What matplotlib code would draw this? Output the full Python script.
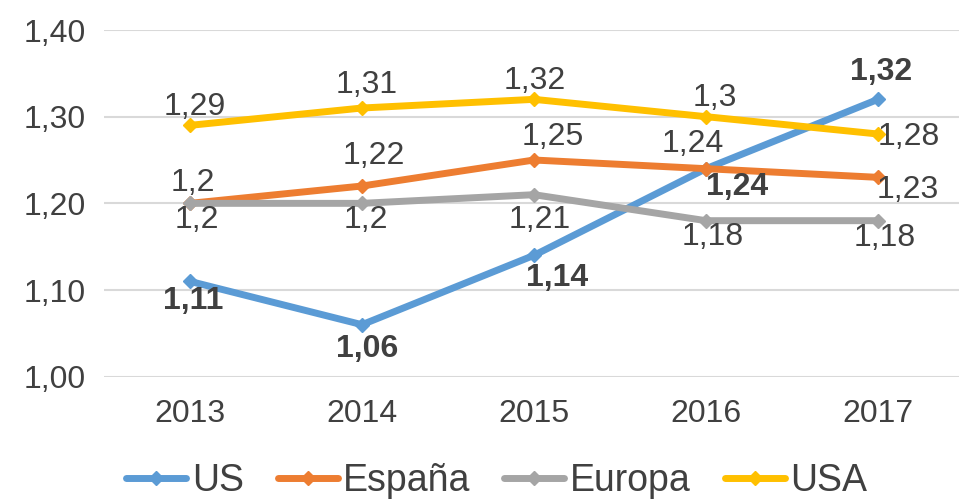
import matplotlib
matplotlib.use("Agg")
import matplotlib.pyplot as plt

plt.rcParams['font.family'] = ['Liberation Sans', 'DejaVu Sans']

years = ["2013", "2014", "2015", "2016", "2017"]
us = [1.11, 1.06, 1.14, 1.24, 1.32]
espana = [1.20, 1.22, 1.25, 1.24, 1.23]
europa = [1.20, 1.20, 1.21, 1.18, 1.18]
usa = [1.29, 1.31, 1.32, 1.30, 1.28]
yticks = [1.00, 1.10, 1.20, 1.30, 1.40]

series = [
    ("US", us, "#5B9BD5", "bold",
     [(3, -20), (5, -24), (23, -23), (31, -18), (3, 27)]),
    ("España", espana, "#ED7D31", "normal",
     [(3, 20), (12, 30), (19, 23), (-13, 25), (30, -13)]),
    ("Europa", europa, "#A5A5A5", "normal",
     [(7, -17), (4, -17), (6, -25), (7, -16), (7, -17)]),
    ("USA", usa, "#FFC000", "normal",
     [(5, 18), (5, 23), (1, 18), (9, 19), (31, -3)]),
]

txt = "#404040"

fig = plt.figure(figsize=(9.59, 4.99), dpi=100)
ax = fig.add_axes([104 / 959, 122.3 / 499, 860 / 959, 346.7 / 499])

x = list(range(len(years)))
for name, vals, col, weight, offs in series:
    ax.plot(x, vals, color=col, lw=5, marker='D', markersize=7,
            label=name, solid_capstyle='round', zorder=3)
for name, vals, col, weight, offs in series:
    for xi, v, (dx, dy) in zip(x, vals, offs):
        lab = ("%g" % v).replace('.', ',')
        ax.annotate(lab, (xi, v), xytext=(dx, dy), textcoords='offset pixels',
                    ha='center', va='center', fontsize=23, color=txt,
                    fontweight=weight, zorder=5)

ax.set_xlim(-0.5, 4.5)
ax.set_ylim(1.0, 1.4)
ax.set_yticks(yticks)
ax.set_yticklabels([("%.2f" % t).replace('.', ',') for t in yticks])
ax.set_xticks(x)
ax.set_xticklabels(years)
ax.tick_params(axis='both', length=0, labelsize=23, labelcolor=txt)
ax.tick_params(axis='y', pad=13)
ax.tick_params(axis='x', pad=16)
ax.grid(axis='y', color='#D9D9D9', lw=1.5, zorder=0)
ax.set_axisbelow(True)
for s in ax.spines.values():
    s.set_visible(False)

leg = fig.legend(loc='center', bbox_to_anchor=(0.518, 1 - 481 / 499), ncol=4,
                 frameon=False, fontsize=27, handlelength=1.6,
                 handletextpad=0.15, columnspacing=0.9)
for t in leg.get_texts():
    t.set_color(txt)

fig.savefig("out.png", dpi=100)
